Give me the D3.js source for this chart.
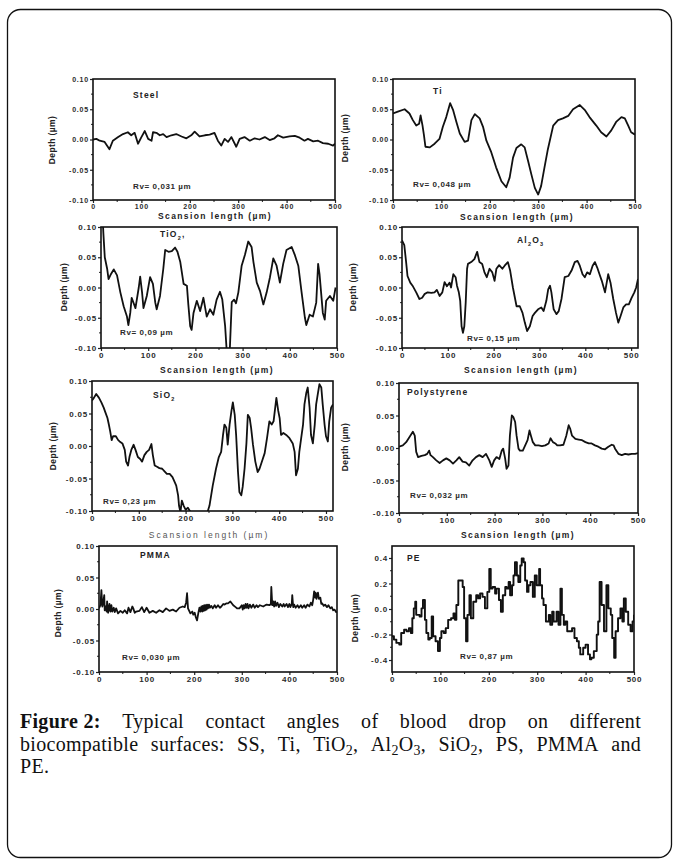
<!DOCTYPE html>
<html><head><meta charset="utf-8">
<script src="https://cdn.jsdelivr.net/npm/d3@7"></script>
<style>body{margin:0;background:#fff}svg{display:block}</style>
</head><body><svg id="c" width="680" height="862"></svg>
<script>
const xTicks=[0,100,200,300,400,500];
const depthTicks=[-0.10,-0.05,0.00,0.05,0.10];
const depthTicksPE=[-0.4,-0.2,0.0,0.2,0.4];
const panelNames=[["Steel"],["Ti"],["TiO","2",","],["Al","2","O","3"],["SiO","2"],["Polystyrene"],["PMMA"],["PE"]];
const rvLabels=["Rv= 0,031 µm","Rv= 0,048 µm","Rv= 0,09 µm","Rv= 0,15 µm","Rv= 0,23 µm","Rv= 0,032 µm","Rv= 0,030 µm","Rv= 0,87 µm"];
const xTitle="Scansion length (µm)";
const yTitle="Depth (µm)";

const steelProfile=[[0,0],[7,0.001],[14,-0.002],[24,-0.004],[34,-0.016],[41,-0.002],[52,0.004],[62,0.009],[72,0.012],[79,0.007],[86,0.011],[93,-0.007],[100,0.004],[107,0.014],[114,0.001],[121,-0.002],[124,0.012],[131,0.011],[138,0.007],[145,0.009],[152,0.004],[162,0.007],[172,0.009],[183,0.005],[193,0.002],[203,0.007],[210,0.013],[220,0.005],[231,0.007],[241,0.008],[251,0.011],[258,-0.002],[265,-0.010],[272,0.001],[279,-0.004],[286,0.004],[296,-0.012],[303,0.001],[313,0.004],[324,-0.002],[334,0.002],[344,0],[355,0.004],[365,-0.001],[375,0.002],[382,0.007],[393,0.003],[406,0.005],[417,0.006],[427,0.003],[437,-0.002],[444,0.001],[455,-0.003],[465,-0.002],[475,-0.006],[486,-0.007],[496,-0.010],[500,-0.007]];

const tiProfile=[[0,0.043],[10,0.046],[24,0.050],[34,0.043],[41,0.032],[48,0.023],[54,0.026],[57,0.040],[61,0.023],[64,0.007],[67,-0.012],[76,-0.013],[86,-0.007],[96,0.001],[103,0.021],[110,0.037],[118,0.060],[124,0.049],[131,0.029],[138,0.010],[148,-0.004],[155,-0.002],[162,0.032],[169,0.042],[179,0.035],[186,0.021],[193,-0.002],[203,-0.021],[213,-0.046],[224,-0.069],[234,-0.079],[241,-0.063],[248,-0.030],[255,-0.014],[265,-0.008],[272,-0.013],[279,-0.035],[286,-0.058],[293,-0.080],[300,-0.091],[306,-0.077],[313,-0.046],[320,-0.016],[331,0.023],[341,0.032],[351,0.035],[362,0.039],[372,0.050],[386,0.057],[396,0.049],[406,0.037],[420,0.023],[430,0.012],[441,0.005],[451,0.015],[461,0.029],[472,0.037],[479,0.035],[486,0.023],[492,0.012],[500,0.008]];

const tio2Profile=[[2,0.14],[5,0.09],[8,0.050],[13,0.031],[16,0.014],[21,0.022],[27,0.030],[34,0.020],[41,-0.008],[48,-0.031],[55,-0.048],[58,-0.062],[62,-0.042],[65,-0.017],[73,-0.034],[80,0.000],[83,0.018],[87,-0.008],[90,-0.034],[97,-0.014],[104,0.017],[110,0.006],[115,-0.025],[118,-0.036],[125,-0.014],[132,0.031],[136,0.062],[143,0.059],[150,0.060],[157,0.066],[162,0.059],[168,0.042],[175,0.006],[182,0.003],[185,-0.028],[189,-0.064],[192,-0.070],[196,-0.042],[203,-0.022],[210,-0.039],[217,-0.017],[224,-0.048],[231,-0.036],[238,-0.045],[245,-0.020],[252,-0.007],[257,-0.020],[263,-0.064],[266,-0.101],[270,-0.115],[273,-0.101],[277,-0.024],[282,-0.020],[286,-0.026],[291,-0.008],[298,0.036],[305,0.054],[312,0.076],[319,0.067],[323,0.042],[330,0.008],[337,-0.006],[344,-0.028],[351,-0.008],[358,0.017],[365,0.048],[372,0.036],[379,0.008],[386,0.039],[393,0.062],[404,0.067],[411,0.053],[418,0.036],[425,-0.008],[432,-0.050],[435,-0.062],[442,-0.045],[449,-0.048],[456,-0.025],[460,0.039],[463,0.022],[470,-0.042],[474,-0.053],[477,-0.022],[485,-0.014],[492,-0.022],[497,0.000]];

const al2o3Profile=[[0,0.078],[5,0.070],[9,0.042],[12,0.019],[18,0.008],[23,0.003],[31,-0.008],[38,-0.019],[44,-0.017],[49,-0.011],[56,-0.008],[64,-0.009],[71,-0.008],[76,-0.004],[82,-0.014],[88,-0.008],[93,0.009],[98,0.002],[104,0.008],[107,0.000],[112,0.022],[117,0.017],[120,0.003],[124,-0.008],[127,-0.022],[130,-0.064],[133,-0.075],[136,-0.064],[139,-0.025],[142,0.031],[144,0.039],[151,0.042],[158,0.047],[164,0.059],[169,0.042],[175,0.039],[180,0.025],[185,0.017],[191,0.031],[197,0.025],[202,0.011],[206,0.031],[212,0.037],[219,0.031],[224,0.036],[231,0.042],[236,0.028],[242,0.000],[250,-0.031],[257,-0.031],[263,-0.042],[268,-0.058],[273,-0.072],[279,-0.064],[285,-0.047],[290,-0.042],[297,-0.036],[304,-0.033],[309,-0.039],[315,-0.022],[319,-0.003],[323,0.003],[326,-0.008],[331,-0.036],[337,-0.044],[342,-0.039],[348,-0.019],[355,0.017],[363,0.019],[370,0.028],[377,0.042],[383,0.044],[388,0.036],[394,0.022],[399,0.017],[404,0.025],[410,0.022],[416,0.036],[421,0.042],[426,0.033],[431,0.022],[436,0.011],[443,-0.008],[450,0.022],[455,0.008],[461,-0.019],[467,-0.042],[472,-0.058],[477,-0.047],[483,-0.033],[489,-0.028],[495,-0.028],[501,-0.017],[507,-0.008],[511,0.000],[515,0.014]];

const sio2Profile=[[0,0.070],[4,0.074],[9,0.080],[15,0.074],[20,0.067],[25,0.059],[29,0.051],[33,0.043],[36,0.033],[39,0.022],[42,0.009],[45,0.015],[51,0.015],[56,0.009],[59,0.007],[65,0.004],[70,-0.006],[73,-0.024],[77,-0.030],[80,-0.017],[84,-0.006],[89,0.002],[93,-0.006],[98,-0.017],[103,-0.020],[107,-0.024],[112,-0.014],[117,-0.009],[122,-0.006],[127,0.003],[130,-0.014],[134,-0.030],[139,-0.032],[144,-0.034],[150,-0.035],[155,-0.039],[160,-0.043],[166,-0.043],[172,-0.048],[177,-0.056],[180,-0.061],[184,-0.076],[186,-0.092],[189,-0.102],[192,-0.084],[196,-0.092],[200,-0.098],[205,-0.095],[210,-0.101],[216,-0.108],[244,-0.108],[251,-0.092],[258,-0.061],[265,-0.035],[271,-0.017],[276,-0.009],[280,0.017],[283,0.033],[287,0.028],[290,0.002],[294,0.033],[298,0.054],[301,0.067],[305,0.048],[308,0.017],[312,-0.040],[315,-0.071],[319,-0.076],[322,-0.063],[326,-0.035],[330,0.004],[333,0.048],[337,0.043],[340,0.028],[344,0.002],[349,-0.024],[354,-0.040],[358,-0.035],[364,-0.022],[369,-0.011],[374,0.012],[379,0.038],[384,0.033],[388,0.038],[394,0.074],[398,0.054],[401,0.043],[404,0.017],[409,0.020],[415,0.017],[422,0.012],[429,0.004],[433,-0.009],[436,-0.045],[440,-0.035],[443,-0.009],[447,0.012],[451,0.033],[454,0.064],[458,0.082],[461,0.090],[465,0.059],[468,0.017],[472,0.004],[476,0.033],[479,0.064],[483,0.082],[486,0.095],[490,0.090],[493,0.064],[497,0.033],[500,0.015],[504,0.007],[507,0.038],[511,0.059],[515,0.064]];

const psProfile=[[0,0.002],[8,0.004],[15,0.009],[22,0.017],[29,0.025],[33,0.019],[36,-0.006],[40,-0.014],[47,-0.012],[54,-0.011],[59,-0.009],[63,-0.004],[66,-0.011],[71,-0.014],[78,-0.019],[85,-0.023],[92,-0.019],[99,-0.016],[106,-0.019],[113,-0.024],[120,-0.019],[126,-0.014],[133,-0.021],[140,-0.022],[147,-0.027],[154,-0.019],[161,-0.014],[168,-0.011],[175,-0.014],[182,-0.009],[189,-0.019],[194,-0.029],[199,-0.019],[204,-0.014],[210,-0.017],[215,-0.004],[218,-0.001],[222,-0.016],[225,-0.032],[229,-0.027],[232,0.019],[236,0.050],[239,0.048],[243,0.040],[246,0.019],[250,-0.001],[253,-0.004],[259,-0.004],[264,0.004],[269,0.012],[273,0.027],[276,0.019],[280,0.009],[285,0.004],[292,0.004],[299,0.003],[306,0.004],[313,0.007],[317,0.015],[322,0.009],[327,0.007],[331,0.004],[337,0.004],[344,0.005],[350,0.019],[355,0.035],[358,0.030],[362,0.019],[369,0.014],[376,0.013],[383,0.012],[390,0.009],[397,0.007],[403,0.007],[410,0.004],[417,0.002],[424,-0.001],[431,-0.002],[438,0.002],[445,0.005],[449,0.004],[452,-0.001],[459,-0.009],[466,-0.011],[473,-0.009],[480,-0.010],[487,-0.009],[494,-0.009],[500,-0.008]];

const pmmaProfile=[[0,0.001],[3,0.006],[5,0.030],[7,0.004],[9,0.010],[11,0.022],[12,-0.002],[14,0.004],[16,-0.004],[17,0.012],[19,-0.006],[20,-0.002],[22,0.008],[24,-0.004],[26,0.006],[28,-0.004],[31,0.002],[33,-0.005],[36,0.001],[40,-0.007],[45,-0.003],[50,-0.006],[54,-0.002],[59,-0.007],[62,0.002],[66,-0.005],[70,0.004],[72,0.001],[75,-0.006],[78,-0.004],[85,-0.003],[90,0.003],[95,-0.005],[100,0.002],[106,-0.006],[113,-0.003],[120,-0.006],[127,-0.002],[134,-0.005],[141,0.001],[148,-0.003],[155,-0.001],[162,-0.004],[169,0.002],[176,0.004],[180,0.003],[183,0.010],[185,0.025],[187,0.001],[192,-0.007],[196,-0.004],[198,-0.009],[201,-0.006],[203,-0.012],[206,-0.018],[209,-0.005],[211,0.002],[213,-0.004],[215,0.004],[217,-0.004],[218,0.005],[220,-0.003],[221,0.006],[223,-0.002],[224,0.006],[226,-0.001],[227,0.007],[229,0.001],[231,0.007],[233,0.002],[236,0.005],[239,0.001],[243,0.006],[246,0.002],[250,0.006],[254,0.002],[257,0.004],[261,0.008],[264,0.007],[268,0.009],[271,0.009],[276,0.012],[282,0.006],[287,0.003],[290,0.001],[295,0.001],[300,0.006],[302,-0.001],[304,0.006],[306,0.001],[308,0.008],[310,0.002],[312,0.008],[314,0.001],[317,0.007],[320,0.002],[324,0.007],[327,0.002],[331,0.006],[334,0.003],[338,0.006],[345,0.004],[352,0.007],[358,0.006],[361,0.008],[362,0.035],[364,0.006],[366,0.012],[368,0.004],[370,0.012],[372,0.005],[375,0.010],[378,0.003],[381,0.008],[385,0.004],[388,0.008],[390,0.004],[394,0.008],[397,0.003],[400,0.008],[402,0.003],[405,0.008],[406,0.022],[408,0.003],[410,0.007],[413,0.002],[417,0.006],[420,0.002],[424,0.006],[427,0.002],[431,0.006],[434,0.002],[438,0.007],[442,0.004],[445,0.010],[448,0.006],[450,0.015],[452,0.028],[454,0.018],[455,0.026],[457,0.016],[459,0.024],[460,0.026],[462,0.016],[465,0.018],[467,0.008],[469,0.009],[472,0.005],[475,0.007],[479,0.003],[482,0.006],[486,0.001],[489,0.003],[492,-0.002],[495,-0.001],[498,-0.005],[500,-0.004]];

const peProfile=[[0,-0.214],[4,-0.240],[9,-0.266],[15,-0.279],[19,-0.188],[25,-0.163],[30,-0.175],[35,-0.150],[39,-0.188],[42,-0.072],[45,0.005],[48,0.057],[50,-0.046],[54,-0.046],[57,-0.059],[61,0.005],[64,0.070],[68,-0.085],[71,-0.188],[75,-0.240],[78,-0.227],[82,-0.059],[85,-0.214],[90,-0.253],[95,-0.330],[99,-0.227],[102,-0.175],[107,-0.188],[111,-0.150],[116,-0.085],[122,-0.072],[127,-0.034],[130,-0.085],[133,0.031],[137,0.224],[142,0.224],[146,0.173],[149,-0.072],[153,-0.253],[156,-0.046],[160,0.108],[163,-0.072],[168,0.057],[174,0.108],[178,0.083],[182,0.121],[187,0.095],[192,0.005],[197,0.134],[201,0.315],[204,0.160],[208,0.173],[213,0.121],[216,0.160],[221,0.070],[225,-0.021],[229,0.108],[234,0.173],[237,0.160],[241,0.212],[244,0.108],[248,0.186],[251,0.263],[254,0.366],[258,0.263],[261,0.212],[265,0.341],[268,0.397],[272,0.366],[275,0.224],[279,0.134],[282,0.186],[286,0.212],[291,0.095],[295,0.263],[299,0.186],[304,0.315],[306,0.186],[310,0.083],[313,0.031],[318,-0.098],[324,-0.046],[327,-0.124],[331,-0.021],[334,-0.098],[340,-0.021],[344,-0.124],[348,0.160],[351,-0.046],[355,-0.124],[358,-0.098],[362,-0.175],[367,-0.175],[372,-0.150],[377,-0.227],[382,-0.253],[386,-0.304],[389,-0.356],[395,-0.304],[400,-0.279],[405,-0.356],[409,-0.395],[412,-0.382],[417,-0.330],[423,-0.201],[426,-0.098],[429,0.212],[433,0.031],[438,-0.175],[443,0.186],[447,0.005],[452,-0.046],[455,-0.227],[459,-0.382],[462,-0.175],[467,-0.072],[472,0.005],[476,-0.098],[479,0.083],[483,-0.021],[488,-0.124],[493,-0.175],[497,-0.098],[500,-0.046]];

const captionLines=[
  [[["Figure 2:",1]],[["Typical"]],[["contact"]],[["angles"]],[["of"]],[["blood"]],[["drop"]],[["on"]],[["different"]]],
  [[["biocompatible"]],[["surfaces:"]],[["SS,"]],[["Ti,"]],[["TiO"],["2",2],[","]],[["Al"],["2",2],["O"],["3",2],[","]],[["SiO"],["2",2],[","]],[["PS,"]],[["PMMA"]],[["and"]]],
  [[["PE."]]]
];

// ---------------- drawing -----------------
const svg=d3.select("#c");
svg.append("rect").attr("x",7.5).attr("y",9.5).attr("width",664).attr("height",848).attr("rx",13)
  .attr("fill","none").attr("stroke","#111").attr("stroke-width",1.3);

const FONT="'Liberation Sans', Arial, sans-serif";
const panels=[
 {data:steelProfile,l:93,r:335,t:79,b:200,xd:[0,500],yd:[-0.1,0.1],yt:depthTicks,fmt:2,name:panelNames[0],nx:133,ny:98,rv:rvLabels[0],rx:133,ry:189,xt:[215,219],yl:[55,140],fs:7},
 {data:tiProfile,l:393,r:635,t:79,b:200,xd:[0,500],yd:[-0.1,0.1],yt:depthTicks,fmt:2,name:panelNames[1],nx:433,ny:94,rv:rvLabels[1],rx:413,ry:187,xt:[517,220],yl:[348,138],fs:7},
 {data:tio2Profile,l:101,r:337,t:227,b:348,xd:[0,500],yd:[-0.1,0.1],yt:depthTicks,fmt:2,name:panelNames[2],nx:160,ny:237,rv:rvLabels[2],rx:120,ry:335,xt:[217,373],yl:[67,287],fs:8},
 {data:al2o3Profile,l:402,r:638,t:227,b:348,xd:[0,515],yd:[-0.1,0.1],yt:depthTicks,fmt:2,name:panelNames[3],nx:517,ny:243,rv:rvLabels[3],rx:467,ry:341,xt:[521,373],yl:[356,287],fs:8},
 {data:sio2Profile,l:92,r:333,t:381,b:511,xd:[0,515],yd:[-0.1,0.1],yt:depthTicks,fmt:2,name:panelNames[4],nx:153,ny:398,rv:rvLabels[4],rx:103,ry:504,xt:[209,538],yl:[56,446],fs:8,thin:true},
 {data:psProfile,l:399,r:638,t:383,b:513,xd:[0,500],yd:[-0.1,0.1],yt:depthTicks,fmt:2,name:panelNames[5],nx:407,ny:395,rv:rvLabels[5],rx:410,ry:498,xt:[518,538],yl:[348,447],fs:8},
 {data:pmmaProfile,l:99,r:337,t:546,b:672,xd:[0,500],yd:[-0.1,0.1],yt:depthTicks,fmt:2,name:panelNames[6],nx:140,ny:558,rv:rvLabels[6],rx:122,ry:660,xt:null,yl:[61,613],fs:8},
 {data:peProfile,l:392,r:634,t:546,b:672,xd:[0,500],yd:[-0.494,0.494],yt:depthTicksPE,fmt:1,name:panelNames[7],nx:407,ny:561,rv:rvLabels[7],rx:460,ry:659,xt:null,yl:[358,618],fs:8,step:true}
];

panels.forEach((p,i)=>{
  const g=svg.append("g");
  const x=d3.scaleLinear().domain(p.xd).range([p.l,p.r]);
  const y=d3.scaleLinear().domain(p.yd).range([p.b,p.t]);
  const cid="clip"+i;
  svg.append("clipPath").attr("id",cid).append("rect").attr("x",p.l).attr("y",p.t).attr("width",p.r-p.l).attr("height",p.b-p.t);
  const line=d3.line().x(d=>x(d[0])).y(d=>y(d[1])).curve(p.step?d3.curveStepAfter:d3.curveLinear);
  g.append("path").datum(p.data).attr("clip-path",`url(#${cid})`).attr("d",line)
   .attr("fill","none").attr("stroke","#111").attr("stroke-width",p.step?1.9:1.8).attr("stroke-linejoin","round");
  const ya=d3.axisLeft(y).tickValues(p.yt).tickSize(3).tickFormat(d=>d.toFixed(p.fmt));
  const yg=g.append("g").attr("transform",`translate(${p.l},0)`).call(ya);
  const xa=d3.axisBottom(x).tickValues(xTicks).tickSize(3).tickFormat(d3.format("d"));
  const xg=g.append("g").attr("transform",`translate(0,${p.b})`).call(xa);
  [yg,xg].forEach(a=>{a.select(".domain").remove();a.selectAll("line").attr("stroke","#222").attr("stroke-width",1.2);
     a.selectAll("text").attr("font-family",FONT).attr("font-weight","bold").attr("font-size",p.fs).attr("fill","#2a2a2a").attr("letter-spacing",0.8);});
  yg.selectAll("text").attr("x",-4);
  xg.selectAll("text").attr("y",4);
  const ymin=[];const step=(p.yt[1]-p.yt[0])/2;
  for(let k=0;k<p.yt.length-1;k++) ymin.push(p.yt[k]+step);
  ymin.forEach(v=>g.append("line").attr("x1",p.l-2).attr("x2",p.l).attr("y1",y(v)).attr("y2",y(v)).attr("stroke","#222"));
  for(let k=0;k<xTicks.length-1;k++){const v=(xTicks[k]+xTicks[k+1])/2;
    g.append("line").attr("x1",x(v)).attr("x2",x(v)).attr("y1",p.b).attr("y2",p.b+2).attr("stroke","#222");}
  g.append("rect").attr("x",p.l).attr("y",p.t).attr("width",p.r-p.l).attr("height",p.b-p.t)
   .attr("fill","none").attr("stroke","#111").attr("stroke-width",1.6);
  const nt=g.append("text").attr("x",p.nx).attr("y",p.ny).attr("font-family",FONT).attr("font-weight","bold")
   .attr("font-size",8.5).attr("letter-spacing",1.2).attr("fill","#222");
  p.name.forEach((s,j)=>{const isSub=/^\d$/.test(s);
    nt.append("tspan").text(s).attr("font-size",isSub?5.5:8.5).attr("dy",isSub?2.5:(j>0&&/^\d$/.test(p.name[j-1])?-2.5:0));});
  g.append("text").attr("x",p.rx).attr("y",p.ry).text(p.rv).attr("font-family",FONT).attr("font-weight","bold")
   .attr("font-size",8).attr("letter-spacing",0.6).attr("fill","#2a2a2a");
  if(p.xt){g.append("text").attr("x",p.xt[0]).attr("y",p.xt[1]).attr("text-anchor","middle").text(xTitle)
    .attr("font-family",FONT).attr("font-weight",p.thin?"normal":"bold").attr("font-size",8.5)
    .attr("letter-spacing",p.thin?2:1.4).attr("fill",p.thin?"#555":"#222");}
  g.append("text").attr("transform",`translate(${p.yl[0]},${p.yl[1]}) rotate(-90)`).attr("text-anchor","middle")
   .text(yTitle).attr("font-family",FONT).attr("font-weight","bold").attr("font-size",8.5).attr("letter-spacing",0.4).attr("fill","#222");
});

const CF="'Liberation Serif','Times New Roman',serif";const CS=20;
const capX0=20,capX1=641,capY0=728,capLH=22.5;
captionLines.forEach((words,li)=>{
  const yb=capY0+li*capLH;
  const els=words.map(w=>{
    const t=svg.append("text").attr("y",yb).attr("font-family",CF).attr("font-size",CS).attr("letter-spacing",0.3).attr("fill","#111");
    let prevSub=false;
    w.forEach(seg=>{const ts=t.append("tspan").text(seg[0]);const s=seg[1]===2;
      if(seg[1]===1) ts.attr("font-weight","bold");
      if(s) ts.attr("font-size",CS*0.7).attr("dy",4); else if(prevSub) ts.attr("dy",-4);
      prevSub=s;});
    return t;});
  const widths=els.map(e=>e.node().getComputedTextLength());
  const total=d3.sum(widths);
  const justify=li<captionLines.length-1;
  const gap=justify&&els.length>1?(capX1-capX0-total)/(els.length-1):CS*0.25;
  let cx=capX0;
  els.forEach((e,k)=>{e.attr("x",cx);cx+=widths[k]+gap;});
});
</script></body></html>
